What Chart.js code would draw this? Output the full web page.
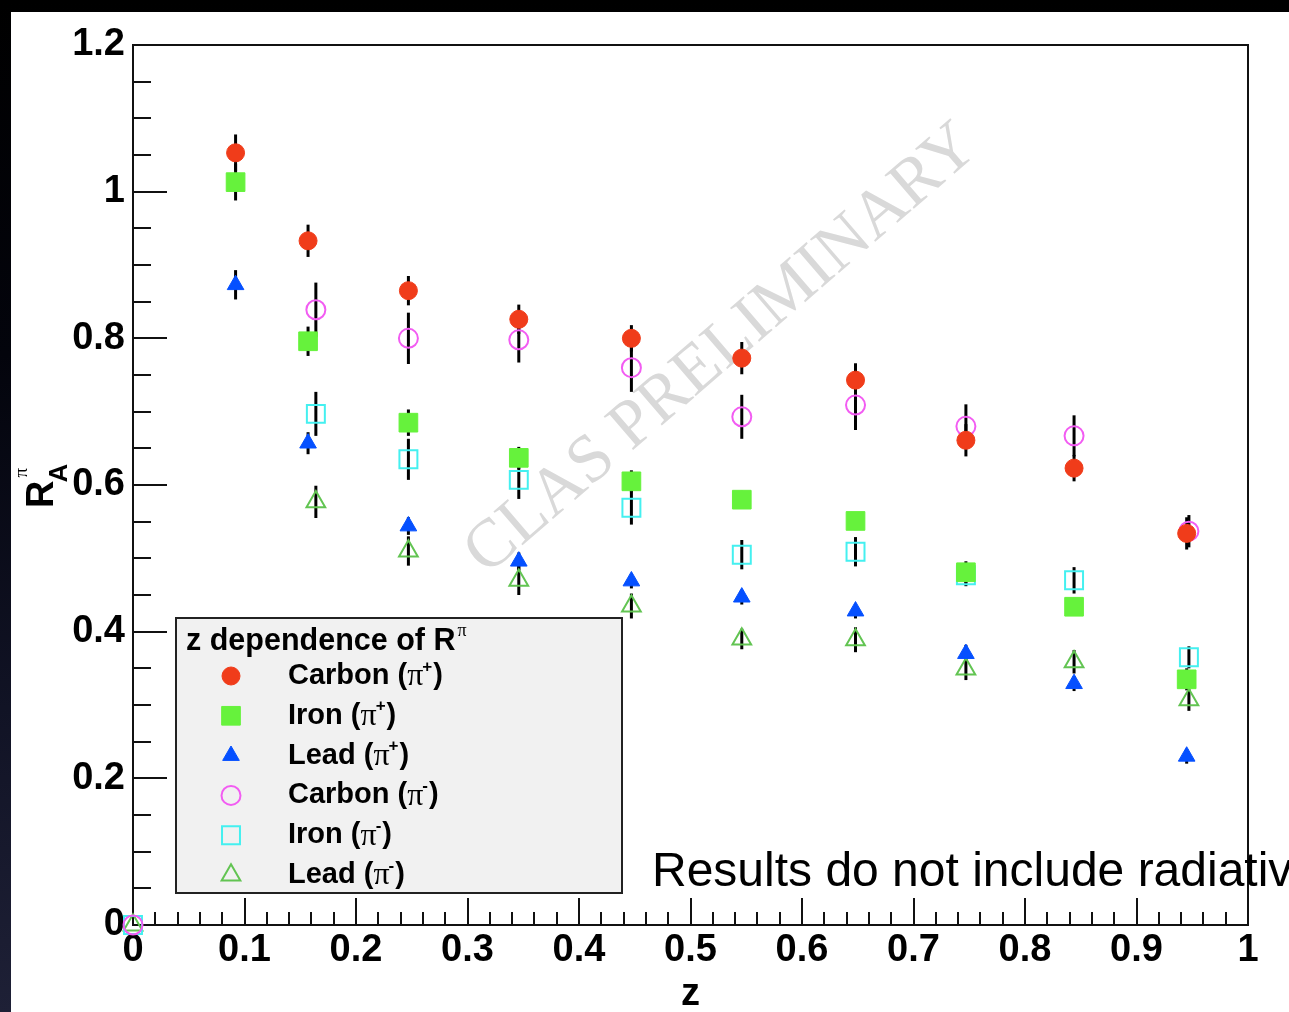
<!DOCTYPE html>
<html lang="en">
<head>
  <meta charset="UTF-8">
  <title>z dependence of R_A^pi</title>
  <script src="https://cdn.jsdelivr.net/npm/chart.js"></script>
  <style>
    html, body {
      margin: 0;
      width: 1289px;
      height: 1012px;
      overflow: hidden;
      background: linear-gradient(to bottom, #000 0%, #03040c 35%, #111325 70%, #1e2036 100%);
    }
    #panel {
      position: absolute;
      left: 11px;
      top: 12px;
      right: 0;
      bottom: 0;
      background: #fff;
    }
    #chart {
      position: absolute;
      left: 0;
      top: 0;
    }
  </style>
</head>
<body>
<div id="panel"></div>
<canvas id="chart" width="1289" height="1012"></canvas>

<script>
  // z positions of the bins (pi- points are shifted a bit in the 2nd bin, first bin sits at 0)
  const zPlus  = [0.092, 0.157, 0.247, 0.346, 0.447, 0.546, 0.648, 0.747, 0.844, 0.945];
  const zMinus = [0, 0.164, 0.247, 0.346, 0.447, 0.546, 0.648, 0.747, 0.844, 0.947];

  // R_A^pi values
  const carbonPlus  = [1.053, 0.933, 0.865, 0.826, 0.800, 0.773, 0.743, 0.661, 0.623, 0.534];
  const ironPlus    = [1.013, 0.796, 0.685, 0.637, 0.605, 0.580, 0.551, 0.481, 0.434, 0.335];
  const leadPlus    = [0.873, 0.657, 0.544, 0.496, 0.469, 0.447, 0.428, 0.370, 0.329, 0.230];
  const carbonMinus = [0, 0.839, 0.800, 0.798, 0.760, 0.693, 0.709, 0.680, 0.667, 0.537];
  const ironMinus   = [0, 0.697, 0.635, 0.607, 0.569, 0.505, 0.509, 0.477, 0.470, 0.365];
  const leadMinus   = [0, 0.577, 0.510, 0.470, 0.435, 0.390, 0.389, 0.349, 0.359, 0.307];

  // statistical errors (half length of the bars)
  const errCarbonPlus  = [0.025, 0.022, 0.020, 0.020, 0.018, 0.022, 0.023, 0.022, 0.018, 0.022];
  const errIronPlus    = [0.025, 0.020, 0.018, 0.015, 0.015, 0.012, 0.012, 0.015, 0.012, 0.015];
  const errLeadPlus    = [0.020, 0.015, 0.012, 0.012, 0.010, 0.010, 0.010, 0.012, 0.010, 0.010];
  const errCarbonMinus = [0, 0.037, 0.035, 0.031, 0.033, 0.030, 0.034, 0.030, 0.028, 0.022];
  const errIronMinus   = [0, 0.030, 0.028, 0.026, 0.023, 0.020, 0.020, 0.015, 0.018, 0.015];
  const errLeadMinus   = [0, 0.022, 0.020, 0.020, 0.017, 0.014, 0.017, 0.015, 0.016, 0.015];

  const targets = ['Carbon', 'Iron', 'Lead', 'Carbon', 'Iron', 'Lead'];
  const charges = ['+', '+', '+', '-', '-', '-'];

  const xTicks = [0, 0.1, 0.2, 0.3, 0.4, 0.5, 0.6, 0.7, 0.8, 0.9, 1];
  const yTicks = [0, 0.2, 0.4, 0.6, 0.8, 1, 1.2];

  const SANS = '"Liberation Sans", Arial, Helvetica, sans-serif';
  const SERIF = '"Liberation Serif", "Times New Roman", serif';

  function toPoints(xs, ys) {
    return xs.map((x, i) => ({ x: x, y: ys[i] }));
  }

  function series(i, xs, ys, errs, style) {
    return Object.assign({
      label: targets[i] + ' (\u03C0' + (charges[i] === '+' ? '\u207A' : '\u207B') + ')',
      data: toPoints(xs, ys),
      errors: errs,
      clip: false
    }, style);
  }

  // ROOT style numbers: 1 instead of 1.0
  const tickText = v => String(Math.round(v * 10) / 10);

  const datasets = [
    series(0, zPlus, carbonPlus, errCarbonPlus, {
      pointStyle: 'circle', pointRadius: 9, backgroundColor: '#f03c1a', borderColor: '#f03c1a', borderWidth: 1
    }),
    series(1, zPlus, ironPlus, errIronPlus, {
      pointStyle: 'rect', pointRadius: 13.2, backgroundColor: '#66f23c', borderColor: '#66f23c', borderWidth: 1
    }),
    series(2, zPlus, leadPlus, errLeadPlus, {
      pointStyle: 'triangle', pointRadius: 9.6, backgroundColor: '#0550ff', borderColor: '#0550ff', borderWidth: 1
    }),
    series(3, zMinus, carbonMinus, errCarbonMinus, {
      pointStyle: 'circle', pointRadius: 9.5, backgroundColor: 'rgba(0,0,0,0)', borderColor: '#f25cf2', borderWidth: 2
    }),
    series(4, zMinus, ironMinus, errIronMinus, {
      pointStyle: 'rect', pointRadius: 12.7, backgroundColor: 'rgba(0,0,0,0)', borderColor: '#44f0f0', borderWidth: 2
    }),
    series(5, zMinus, leadMinus, errLeadMinus, {
      pointStyle: 'triangle', pointRadius: 10.8, backgroundColor: 'rgba(0,0,0,0)', borderColor: '#62c452', borderWidth: 2
    })
  ];

  // frame, inward ticks, watermark, error bars and the ROOT-like legend
  const decorations = {
    id: 'decorations',
    beforeDatasetsDraw(chart) {
      const ctx = chart.ctx;
      const area = chart.chartArea;
      const xs = chart.scales.x;
      const ys = chart.scales.y;

      // watermark
      ctx.save();
      ctx.translate(722, 350);
      ctx.rotate(-40.7 * Math.PI / 180);
      ctx.font = '68px ' + SERIF;
      ctx.fillStyle = '#d9d9d9';
      ctx.textAlign = 'center';
      ctx.textBaseline = 'middle';
      ctx.fillText('CLAS PRELIMINARY', 0, 0);
      ctx.restore();

      // frame
      ctx.save();
      ctx.strokeStyle = '#111';
      ctx.lineWidth = 2;
      ctx.strokeRect(area.left, area.top, area.right - area.left, area.bottom - area.top);

      // x ticks: major every 0.1, minor every 0.02
      ctx.beginPath();
      for (let k = 0; k <= 50; k++) {
        const px = Math.round(xs.getPixelForValue(k * 0.02));
        const len = k % 5 === 0 ? 27 : 13;
        ctx.moveTo(px, area.bottom);
        ctx.lineTo(px, area.bottom - len);
      }
      // y ticks: major every 0.2, minor every 0.05
      for (let k = 0; k <= 24; k++) {
        const py = Math.round(ys.getPixelForValue(k * 0.05));
        const len = k % 4 === 0 ? 34 : 18;
        ctx.moveTo(area.left, py);
        ctx.lineTo(area.left + len, py);
      }
      ctx.stroke();

      // error bars
      ctx.strokeStyle = '#000';
      ctx.lineWidth = 3;
      chart.data.datasets.forEach((ds, i) => {
        const meta = chart.getDatasetMeta(i);
        ds.data.forEach((p, j) => {
          const e = ds.errors[j];
          if (!e) return;
          const x = meta.data[j].x;
          ctx.beginPath();
          ctx.moveTo(x, ys.getPixelForValue(p.y - e));
          ctx.lineTo(x, ys.getPixelForValue(p.y + e));
          ctx.stroke();
        });
      });
      ctx.restore();

      // y axis title R_A^pi, rotated
      ctx.save();
      ctx.translate(53, 508);
      ctx.rotate(-Math.PI / 2);
      ctx.fillStyle = '#000';
      ctx.textBaseline = 'alphabetic';
      ctx.font = 'bold 38px ' + SANS;
      ctx.fillText('R', 0, 0);
      const rw = ctx.measureText('R').width;
      ctx.font = 'bold 26px ' + SANS;
      ctx.fillText('A', rw - 2, 14);
      ctx.font = '19px ' + SERIF;
      ctx.fillText('\u03C0', rw + 3, -26);
      ctx.restore();

      // note at the bottom right, cut off by the picture edge
      ctx.save();
      ctx.fillStyle = '#000';
      ctx.font = '48px ' + SANS;
      ctx.textBaseline = 'alphabetic';
      ctx.fillText('Results do not include radiative corrections', 652, 886);
      ctx.restore();
    },
    afterDatasetsDraw(chart) {
      const ctx = chart.ctx;
      ctx.save();
      // legend box
      ctx.fillStyle = '#f1f1f1';
      ctx.fillRect(176, 618, 446, 275);
      ctx.strokeStyle = '#222';
      ctx.lineWidth = 2;
      ctx.strokeRect(176, 618, 446, 275);

      ctx.fillStyle = '#000';
      ctx.textBaseline = 'alphabetic';
      ctx.font = 'bold 30.5px ' + SANS;
      const head = 'z dependence of R';
      ctx.fillText(head, 186, 650);
      const hw = ctx.measureText(head).width;
      ctx.font = '18px ' + SERIF;
      ctx.fillText('\u03C0', 186 + hw + 2, 636);

      chart.data.datasets.forEach((ds, i) => {
        const y = 676 + i * 39.8;
        ctx.fillStyle = ds.backgroundColor;
        ctx.strokeStyle = ds.borderColor;
        ctx.lineWidth = ds.borderWidth;
        Chart.helpers.drawPoint(ctx, {
          pointStyle: ds.pointStyle,
          radius: ds.pointRadius,
          borderWidth: ds.borderWidth,
          rotation: 0
        }, 231, y);

        ctx.fillStyle = '#000';
        ctx.textBaseline = 'middle';
        let x = 288;
        ctx.font = 'bold 29px ' + SANS;
        const t1 = targets[i] + ' (';
        ctx.fillText(t1, x, y);
        x += ctx.measureText(t1).width;
        ctx.font = '32px ' + SERIF;
        ctx.fillText('\u03C0', x, y + 1);
        x += ctx.measureText('\u03C0').width + 1;
        ctx.font = 'bold 17px ' + SANS;
        ctx.fillText(charges[i], x - 2, y - 9);
        x += ctx.measureText(charges[i]).width - 1;
        ctx.font = 'bold 29px ' + SANS;
        ctx.fillText(')', x, y);
      });
      ctx.restore();
    }
  };

  Chart.defaults.font.family = SANS;
  Chart.defaults.color = '#000';

  new Chart(document.getElementById('chart'), {
    type: 'scatter',
    data: { datasets: datasets },
    plugins: [decorations],
    options: {
      responsive: false,
      animation: false,
      layout: { padding: { top: 45, right: 41, left: 0, bottom: 0 } },
      plugins: {
        legend: { display: false },
        tooltip: { enabled: false }
      },
      scales: {
        x: {
          type: 'linear',
          min: 0,
          max: 1,
          afterFit(scale) { scale.height = 87; },
          afterBuildTicks(scale) { scale.ticks = xTicks.map(v => ({ value: v })); },
          grid: { display: false, drawTicks: false },
          border: { display: false },
          ticks: { padding: 3, font: { size: 38, weight: 'bold' }, maxRotation: 0, autoSkip: false, callback: tickText },
          title: { display: true, text: 'z', font: { size: 38, weight: 'bold', lineHeight: 0.75 }, padding: { top: 0, bottom: 3 } }
        },
        y: {
          type: 'linear',
          min: 0,
          max: 1.2,
          afterFit(scale) { scale.width = 133; },
          afterBuildTicks(scale) { scale.ticks = yTicks.map(v => ({ value: v })); },
          grid: { display: false, drawTicks: false },
          border: { display: false },
          ticks: { padding: 8, font: { size: 38, weight: 'bold' }, autoSkip: false, callback: tickText }
        }
      }
    }
  });
</script>
</body>
</html>
